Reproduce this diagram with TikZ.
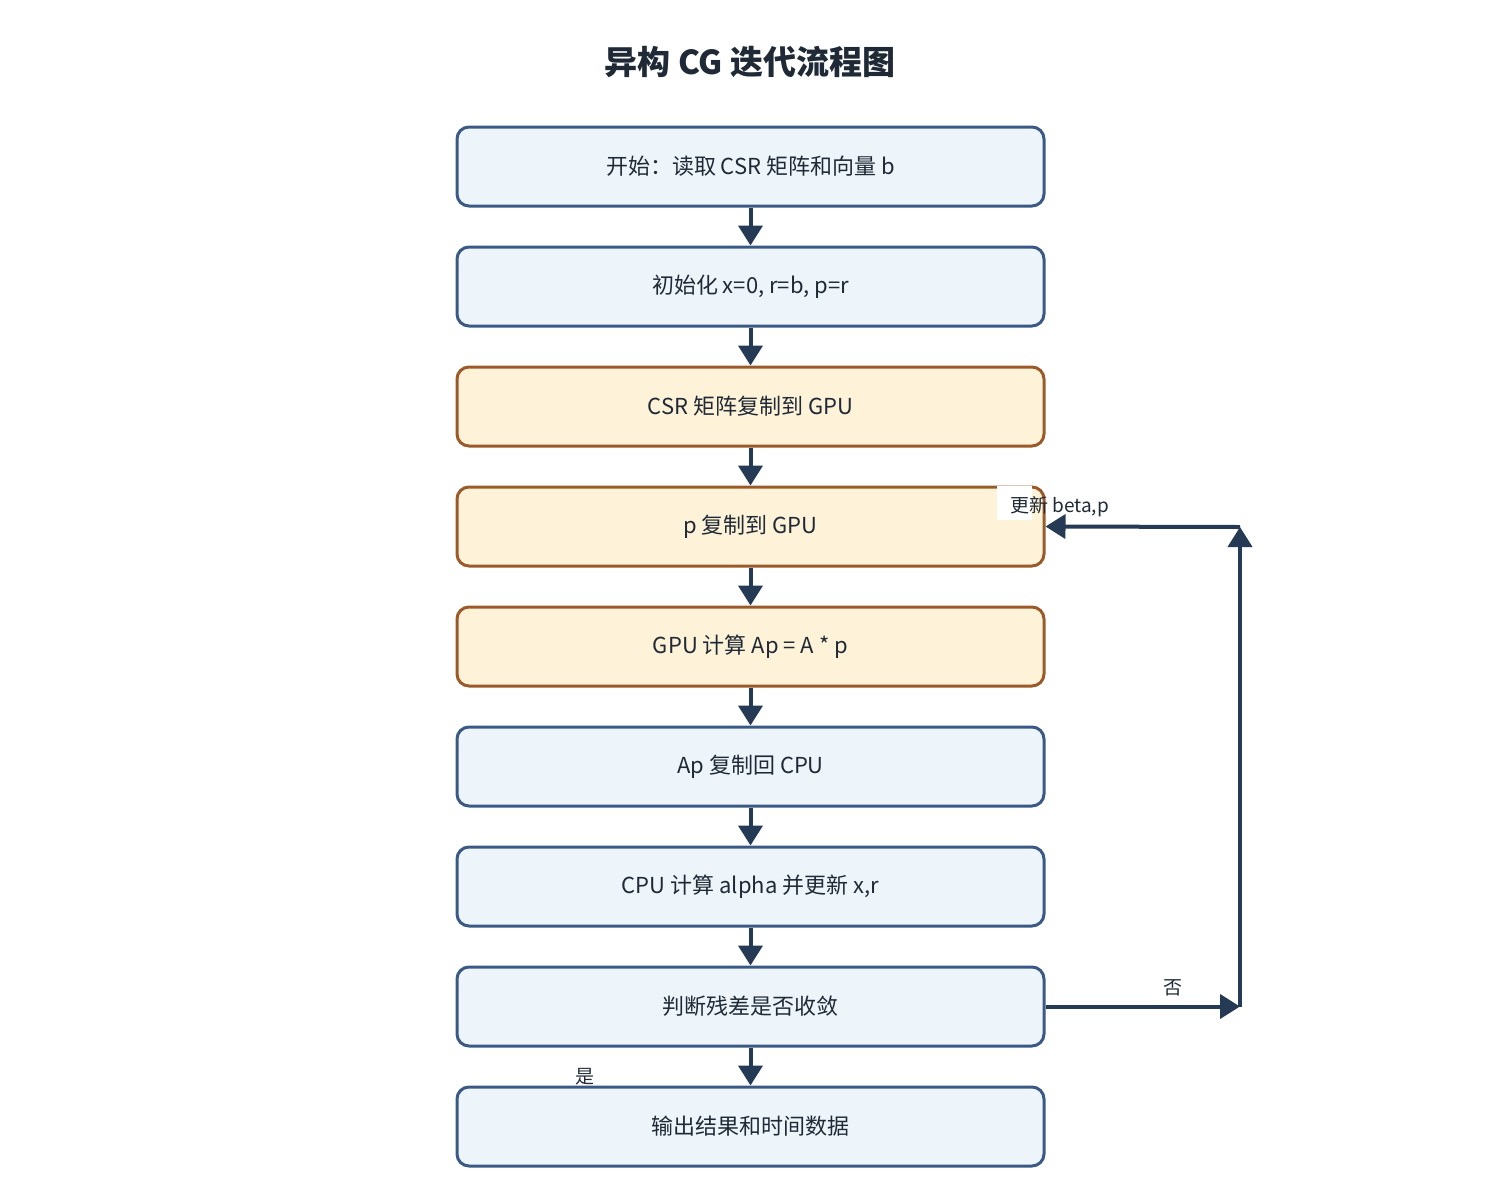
\documentclass[tikz,border=0pt]{standalone}
\usepackage{fontspec}
\setmainfont{Noto Sans CJK SC}
\usetikzlibrary{arrows.meta}
\definecolor{bb}{HTML}{3A5A85}\definecolor{bf}{HTML}{EDF5FA}
\definecolor{ob}{HTML}{9A5A2A}\definecolor{of}{HTML}{FEF2D8}
\definecolor{ar}{HTML}{253A55}\definecolor{tx}{HTML}{1F2A36}
\begin{document}
\begin{tikzpicture}[x=0.5pt,y=-0.5pt,
 box/.style={draw=bb,fill=bf,line width=1.5pt,rounded corners=6pt,minimum width=293.5pt,minimum height=39.5pt,font=\fontsize{11}{13}\selectfont,text=tx},
 obox/.style={box,draw=ob,fill=of},
 arr/.style={draw=ar,line width=2pt,-{Triangle[width=12pt,length=10pt]}},
 lab/.style={font=\fontsize{9.5}{11}\selectfont,text=tx}]
\useasboundingbox (0,0) rectangle (1500,1200);
\node[font=\bfseries\fontsize{16.5}{20}\selectfont,text=tx] (t) at (750,62) {异构 CG 迭代流程图};
\node[box] (b1) at (750.5,166.5) {开始：读取 CSR 矩阵和向量 b};
\node[box] (b2) at (750.5,286.5) {初始化 x=0, r=b, p=r};
\node[obox] (b3) at (750.5,406.5) {CSR 矩阵复制到 GPU};
\node[obox] (b4) at (750.5,526.5) {p 复制到 GPU};
\node[obox] (b5) at (750.5,646.5) {GPU 计算 Ap = A * p};
\node[box] (b6) at (750.5,766.5) {Ap 复制回 CPU};
\node[box] (b7) at (750.5,886.5) {CPU 计算 alpha 并更新 x,r};
\node[box] (b8) at (750.5,1006.5) {判断残差是否收敛};
\node[box] (b9) at (750.5,1126.5) {输出结果和时间数据};
\foreach \a/\b in {b1/b2,b2/b3,b3/b4,b4/b5,b5/b6,b6/b7,b7/b8,b8/b9}
  \draw[arr] (\a.south) -- (\b.north);
\coordinate (c1) at (1240,1006.5);
\coordinate (c2) at (1240,527);
\draw[arr] (b8.east) -- (c1);
\draw[arr] (c1) -- (c2);
\draw[arr] (c2) -- (b4.east);
\fill[white] (997,486) rectangle (1032,520);
\node[lab,anchor=west] (l1) at (1003,507) {更新 beta,p};
\node[lab] (l2) at (1173,988) {否};
\node[lab] (l3) at (585,1077) {是};
\end{tikzpicture}
\end{document}
